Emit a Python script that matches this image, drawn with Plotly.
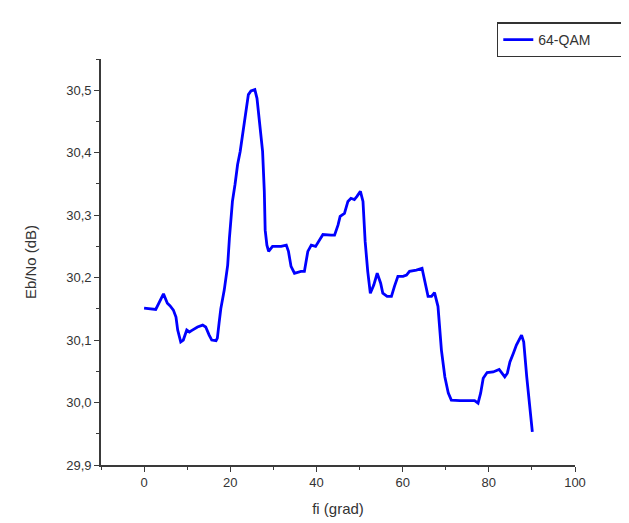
import plotly.graph_objects as go

# angle fi (grad)
fi = [0, 2.7, 4.5, 5.4, 6.0, 6.8, 7.4, 7.8, 8.5, 9.1, 9.9, 10.5, 11.2, 12.4, 13.6, 14.3,
      15.1, 15.7, 16.7, 17.0, 17.4, 17.8, 18.6, 19.4, 19.8, 20.2, 20.5, 21.1, 21.7, 22.3,
      22.9, 23.6, 24.2, 24.8, 25.7, 26.2, 26.7, 27.5, 27.9, 28.1, 28.5, 28.9, 29.8, 31.8,
      33.0, 33.5, 34.1, 34.9, 36.4, 37.2, 38.0, 38.8, 39.8, 40.7, 41.5, 43.4, 44.2, 45.0,
      45.5, 46.5, 47.3, 48.0, 48.8, 49.4, 50.2, 50.8, 51.3, 51.9, 52.5, 53.3, 54.1, 54.9,
      55.4, 56.4, 57.4, 58.1, 58.9, 60.1, 60.9, 61.6, 63.2, 64.5, 65.1, 65.9, 66.7, 67.4,
      68.2, 68.6, 69.0, 69.8, 70.6, 71.3, 73.3, 76.7, 77.5, 78.1, 78.7, 79.6, 81.0, 82.4,
      83.7, 84.3, 84.9, 85.7, 86.4, 87.6, 88.1, 88.8, 89.5, 90.1]

# Eb/No (dB)
ebno = [30.151, 30.149, 30.174, 30.159, 30.155, 30.148, 30.137, 30.116, 30.097, 30.100,
        30.116, 30.113, 30.116, 30.121, 30.124, 30.121, 30.108, 30.100, 30.099, 30.103,
        30.127, 30.150, 30.180, 30.220, 30.263, 30.300, 30.322, 30.349, 30.381, 30.402,
        30.429, 30.466, 30.493, 30.499, 30.501, 30.487, 30.450, 30.402, 30.338, 30.276,
        30.252, 30.242, 30.250, 30.250, 30.252, 30.242, 30.218, 30.207, 30.210, 30.210,
        30.242, 30.252, 30.250, 30.260, 30.269, 30.268, 30.268, 30.284, 30.298, 30.303,
        30.322, 30.327, 30.325, 30.330, 30.338, 30.322, 30.258, 30.210, 30.175, 30.188,
        30.207, 30.191, 30.175, 30.170, 30.170, 30.186, 30.202, 30.202, 30.204, 30.210,
        30.212, 30.215, 30.196, 30.170, 30.170, 30.176, 30.154, 30.121, 30.084, 30.041,
        30.015, 30.004, 30.003, 30.003, 29.999, 30.015, 30.039, 30.048, 30.049, 30.053,
        30.041, 30.047, 30.065, 30.079, 30.092, 30.108, 30.097, 30.041, 29.999, 29.953]

series_name = "64-QAM"

FONT = "Liberation Sans, Arial, sans-serif"
AX = "#3a3a3a"
TXT = "#333333"

fig = go.Figure()
fig.add_trace(go.Scatter(x=fi, y=ebno, mode="lines", name=series_name,
                         line=dict(color="#0000ff", width=2.8)))

fig.update_layout(
    width=629, height=523,
    margin=dict(l=93, r=54, t=51, b=66),
    paper_bgcolor="white", plot_bgcolor="white",
    separators=",.",
    font=dict(family=FONT, size=12, color=TXT),
    showlegend=True,
    legend=dict(orientation="h", entrywidth=80, entrywidthmode="pixels",
                x=0.835, xanchor="left", y=1.09, yanchor="top",
                bordercolor="#333333", borderwidth=1.5, bgcolor="white",
                font=dict(size=14, color=TXT),
                itemwidth=30, tracegroupgap=0),
    xaxis=dict(range=[-10, 100], dtick=20, tick0=0, showgrid=False, zeroline=False,
               showline=True, linecolor=AX, linewidth=1.6,
               ticks="outside", ticklen=5, tickwidth=1.4, tickcolor=AX,
               minor=dict(ticks="outside", ticklen=3, dtick=10, tick0=0, tickcolor=AX, tickwidth=1.2),
               tickfont=dict(size=13, color=TXT),
               title=dict(text="fi (grad)", font=dict(size=15, color=TXT), standoff=14)),
    yaxis=dict(range=[29.9, 30.55], dtick=0.1, tick0=29.9, tickformat=".1f",
               showgrid=False, zeroline=False,
               showline=True, linecolor=AX, linewidth=1.6,
               ticks="outside", ticklen=5, tickwidth=1.4, tickcolor=AX,
               minor=dict(ticks="outside", ticklen=3, dtick=0.05, tick0=29.9, tickcolor=AX, tickwidth=1.2),
               tickfont=dict(size=13, color=TXT),
               title=dict(text="Eb/No (dB)", font=dict(size=15, color=TXT), standoff=26)),
)

fig.write_html("out.html")
